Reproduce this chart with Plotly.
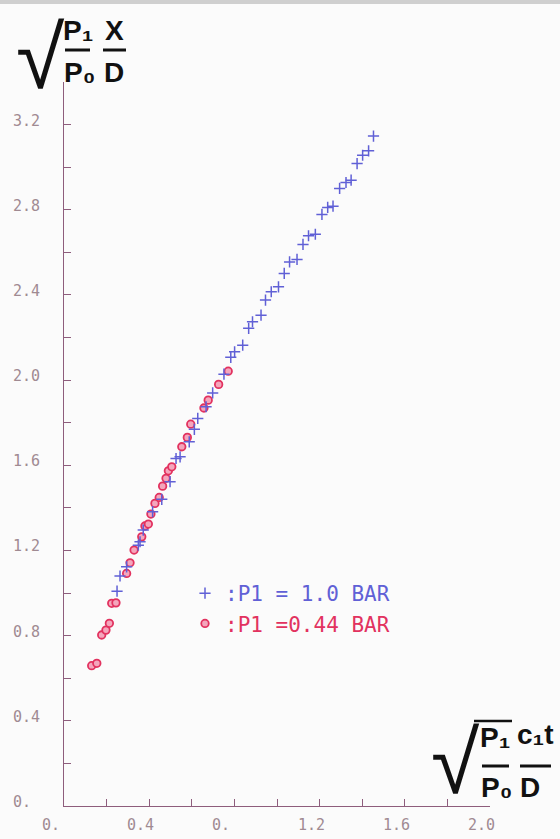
import plotly.graph_objects as go

# Measurements at P1 = 1.0 bar
x_p1_10 = [0.249, 0.263, 0.294, 0.349, 0.357, 0.372, 0.416, 0.459, 0.498, 0.526,
           0.545, 0.588, 0.612, 0.628, 0.667, 0.698, 0.751, 0.783, 0.801, 0.839,
           0.867, 0.885, 0.925, 0.946, 0.973, 1.007, 1.034, 1.059, 1.094, 1.122,
           1.148, 1.180, 1.211, 1.238, 1.263, 1.294, 1.324, 1.348, 1.376, 1.402,
           1.430, 1.453]
y_p1_10 = [1.009, 1.080, 1.123, 1.225, 1.241, 1.296, 1.382, 1.440, 1.523, 1.632,
           1.640, 1.710, 1.769, 1.820, 1.875, 1.940, 2.028, 2.107, 2.133, 2.164,
           2.243, 2.274, 2.305, 2.376, 2.415, 2.438, 2.501, 2.555, 2.567, 2.637,
           2.678, 2.685, 2.778, 2.811, 2.817, 2.900, 2.928, 2.939, 3.017, 3.056,
           3.077, 3.146]

# Measurements at P1 = 0.44 bar
x_p1_044 = [0.130, 0.154, 0.177, 0.197, 0.213, 0.224, 0.244, 0.294, 0.310, 0.329,
            0.365, 0.380, 0.396, 0.408, 0.427, 0.447, 0.463, 0.479, 0.490, 0.506,
            0.553, 0.579, 0.595, 0.657, 0.677, 0.726, 0.771]
y_p1_044 = [0.659, 0.670, 0.803, 0.826, 0.858, 0.952, 0.954, 1.092, 1.142, 1.202,
            1.264, 1.315, 1.324, 1.371, 1.421, 1.449, 1.502, 1.539, 1.574, 1.593,
            1.687, 1.731, 1.793, 1.869, 1.906, 1.980, 2.042]

x_tick_vals = [0.0, 0.4, 0.8, 1.2, 1.6, 2.0]
x_tick_text = ["0.", "0.4", "0.", "1.2", "1.6", "2.0"]
y_tick_vals = [0.0, 0.4, 0.8, 1.2, 1.6, 2.0, 2.4, 2.8, 3.2]
y_tick_text = ["0.", "0.4", "0.8", "1.2", "1.6", "2.0", "2.4", "2.8", "3.2"]

legend_10 = ":P1 = 1.0 BAR"
legend_044 = ":P1 =0.44 BAR"

BLUE = "#6060d6"
RED = "#e2325f"
AXIS = "#8e5d7c"
TICKTXT = "#a08a92"
INK = "#111111"

W, H = 560, 839
L, R, T, B = 64, 70, 82, 33
PW, PH = W - L - R, H - T - B


def fx(p):
    return (p - L) / PW


def fy(p):
    return (H - B - p) / PH


fig = go.Figure()

fig.add_trace(go.Scatter(
    x=x_p1_044, y=y_p1_044, mode="markers",
    name=f'<span style="color:{RED}">{legend_044}</span>',
    marker=dict(symbol="circle", size=7.5, color="#f4a6bc",
                line=dict(color=RED, width=1.8)),
))
fig.add_trace(go.Scatter(
    x=x_p1_10, y=y_p1_10, mode="markers",
    name=f'<span style="color:{BLUE}">{legend_10}</span>',
    marker=dict(symbol="cross-thin", size=8, color=BLUE,
                line=dict(color=BLUE, width=1.5)),
))

annotations = []
for v, t in zip(x_tick_vals, x_tick_text):
    annotations.append(dict(x=v, xref="x", y=0, yref="paper", text=t,
                            showarrow=False, xanchor="left", yanchor="middle",
                            xshift=-24, yshift=-19,
                            font=dict(family="DejaVu Sans Mono", size=15, color=TICKTXT)))
for v, t in zip(y_tick_vals, y_tick_text):
    annotations.append(dict(x=0, xref="paper", y=v, yref="y", text=t,
                            showarrow=False, xanchor="left", yanchor="middle",
                            xshift=-53, yshift=4,
                            font=dict(family="DejaVu Sans Mono", size=15, color=TICKTXT)))

TF = dict(family="Liberation Sans", size=28, color=INK, weight="bold")
RADF = dict(family="Liberation Sans", size=88, color=INK)


def title_text(txt, cx, cy, font=TF, anchor="center"):
    annotations.append(dict(x=fx(cx), y=fy(cy), xref="paper", yref="paper",
                            text=txt, showarrow=False, xanchor=anchor,
                            yanchor="middle", font=font, borderpad=0))


# vertical axis title
title_text("√", 66, 57, RADF, "right")
title_text("P₁", 78, 30)
title_text("P₀", 79, 73)
title_text("X", 114, 30)
title_text("D", 114, 72)

# horizontal axis title
title_text("√", 481, 762, RADF, "right")
title_text("P₁", 495, 737)
title_text("P₀", 497, 787)
title_text("c₁t", 535, 734)
title_text("D", 530, 787)

shapes = []


def bar(x0, x1, y, w=3):
    shapes.append(dict(type="line", xref="paper", yref="paper",
                       x0=fx(x0), x1=fx(x1), y0=fy(y), y1=fy(y),
                       line=dict(color=INK, width=w)))


bar(65, 90, 50)
bar(103, 126, 50)
bar(482, 509, 766)
bar(520, 551, 766)
bar(474, 512, 721, 2.5)

# scanner edge along the top of the sheet
shapes.append(dict(type="rect", xref="paper", yref="paper",
                   x0=fx(0), x1=fx(W), y0=fy(0), y1=fy(4),
                   line=dict(width=0), fillcolor="#cfcfcf"))

fig.update_layout(
    width=W, height=H,
    margin=dict(l=L, r=R, t=T, b=B, pad=0),
    paper_bgcolor="#fbfbfb", plot_bgcolor="#fbfbfb",
    showlegend=True,
    legend=dict(x=fx(185), y=fy(573), xanchor="left", yanchor="top",
                bgcolor="rgba(0,0,0,0)", traceorder="reversed",
                font=dict(family="DejaVu Sans Mono", size=21)),
    annotations=annotations,
    shapes=shapes,
    xaxis=dict(range=[0, 2.0], showgrid=False, zeroline=False,
               showline=True, linecolor=AXIS, linewidth=1.2,
               ticks="inside", ticklen=7, tickcolor=AXIS, tickwidth=1,
               tickvals=[round(0.2 * i, 1) for i in range(11)],
               showticklabels=False),
    yaxis=dict(range=[0, 3.4], showgrid=False, zeroline=False,
               showline=True, linecolor=AXIS, linewidth=1.2,
               ticks="inside", ticklen=7, tickcolor=AXIS, tickwidth=1,
               tickvals=[round(0.2 * i, 1) for i in range(17)],
               showticklabels=False),
)

fig.write_html("out.html")
